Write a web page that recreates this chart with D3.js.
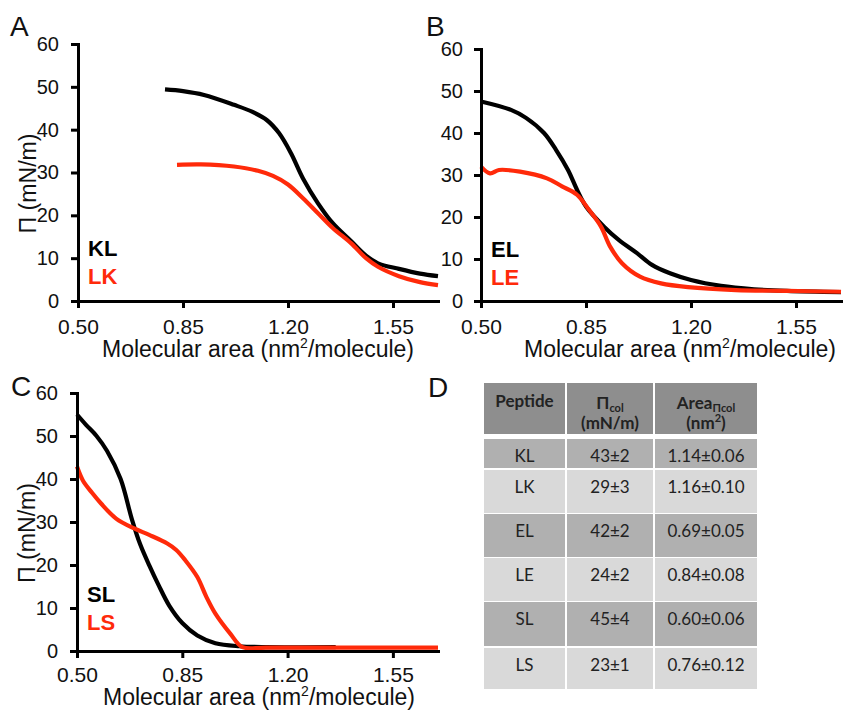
<!DOCTYPE html>
<html>
<head>
<meta charset="utf-8">
<script src="https://cdn.jsdelivr.net/npm/d3@7"></script>
<style>
  body { margin: 0; background: #fff; }
  svg { display: block; }
  .axis path, .axis line { stroke: #000; stroke-width: 3; }
  .axis text { fill: #111; font-family: "Liberation Sans", Arial, sans-serif; }
</style>
</head>
<body>
<svg id="chart" width="843" height="710"></svg>
<script>
// ---- data ----
const xTicks = [0.50, 0.85, 1.20, 1.55];
const yTicks = [0, 10, 20, 30, 40, 50, 60];

// surface pressure isotherms: [molecular area, pi]
const klCurve = [[0.79,49.4],[0.85,49.0],[0.92,48.1],[1.02,45.8],[1.08,44.2],[1.13,42.2],[1.17,39.2],[1.21,34.5],[1.25,28.6],[1.30,22.8],[1.35,18.1],[1.41,14.0],[1.46,10.6],[1.50,8.8],[1.57,7.5],[1.64,6.4],[1.70,5.8]];
const lkCurve = [[0.83,31.8],[0.91,31.9],[1.02,31.4],[1.10,30.4],[1.15,29.2],[1.20,27.2],[1.25,24.0],[1.30,20.5],[1.35,17.0],[1.41,13.5],[1.46,10.0],[1.50,8.0],[1.57,5.8],[1.64,4.4],[1.70,3.7]];
const elCurve = [[0.50,47.5],[0.60,45.5],[0.65,43.6],[0.71,40.0],[0.75,36.0],[0.79,31.2],[0.82,26.5],[0.85,22.5],[0.91,17.7],[0.96,14.5],[1.02,11.4],[1.07,8.6],[1.13,6.6],[1.20,5.0],[1.30,3.6],[1.41,2.8],[1.52,2.4],[1.70,2.1]];
const leCurve = [[0.50,32.0],[0.53,30.4],[0.56,31.2],[0.63,30.8],[0.72,29.2],[0.77,27.3],[0.82,25.3],[0.86,21.7],[0.90,17.7],[0.93,13.0],[0.97,9.0],[1.03,5.8],[1.10,4.2],[1.19,3.3],[1.35,2.6],[1.52,2.4],[1.70,2.2]];
const slCurve = [[0.50,55.0],[0.53,52.6],[0.565,50.0],[0.60,46.5],[0.645,40.0],[0.683,30.5],[0.71,24.8],[0.741,19.8],[0.77,15.5],[0.807,10.5],[0.85,6.5],[0.90,3.6],[0.96,1.8],[1.04,1.1],[1.13,0.9],[1.36,0.9]];
const lsCurve = [[0.50,42.9],[0.52,39.6],[0.55,36.8],[0.58,34.3],[0.63,30.8],[0.69,28.5],[0.74,27.0],[0.80,25.0],[0.83,23.5],[0.86,21.1],[0.90,17.2],[0.93,12.6],[0.96,8.7],[1.01,4.0],[1.05,0.9],[1.13,0.8],[1.70,0.8]];

const panelA = ["KL", "LK"];
const panelB = ["EL", "LE"];
const panelC = ["SL", "LS"];

// table D
const peptides = ["KL", "LK", "EL", "LE", "SL", "LS"];
const piCol = ["43±2", "29±3", "42±2", "24±2", "45±4", "23±1"];
const areaPiCol = ["1.14±0.06", "1.16±0.10", "0.69±0.05", "0.84±0.08", "0.60±0.06", "0.76±0.12"];

// ---- drawing ----
const svg = d3.select("#chart");
const red = "#ff2a0a";
const font = "'Liberation Sans', Arial, sans-serif";

function drawPanel(p) {
    const g = svg.append("g");

    const xScale = d3.scaleLinear().domain([0.5, 1.70]).range([p.left, p.right]);
    const yScale = d3.scaleLinear().domain([0, 60]).range([p.bottom, p.top]);

    const line = d3.line()
        .x(function (d) { return xScale(d[0]); })
        .y(function (d) { return yScale(d[1]); })
        .curve(d3.curveCatmullRom.alpha(0.5));

    // curves
    p.series.forEach(function (s) {
        g.append("path")
            .datum(s.data)
            .attr("fill", "none")
            .attr("stroke", s.color)
            .attr("stroke-width", 4.2)
            .attr("stroke-linejoin", "round")
            .attr("d", line);
    });

    // axes
    const xAxis = d3.axisBottom(xScale)
        .tickValues(xTicks)
        .tickFormat(d3.format(".2f"))
        .tickSize(7)
        .tickSizeOuter(0)
        .tickPadding(p.xPad);

    const yAxis = d3.axisLeft(yScale)
        .tickValues(yTicks)
        .tickSize(7)
        .tickSizeOuter(0)
        .tickPadding(p.yPad);

    g.append("g")
        .attr("class", "axis")
        .attr("transform", "translate(0," + p.bottom + ")")
        .call(xAxis)
        .selectAll("text").attr("font-size", 21);

    g.append("g")
        .attr("class", "axis")
        .attr("transform", "translate(" + p.left + ",0)")
        .call(yAxis)
        .selectAll("text").attr("font-size", 20);

    g.selectAll(".axis .domain").attr("stroke-linecap", "square");

    // x title
    const xt = g.append("text")
        .attr("x", p.xTitleX)
        .attr("y", p.bottom + p.xTitleDy)
        .attr("text-anchor", "middle")
        .attr("font-family", font)
        .attr("font-size", 23)
        .attr("fill", "#111");
    xt.append("tspan").text("Molecular area (nm");
    xt.append("tspan").attr("font-size", 14).attr("dy", -9).text("2");
    xt.append("tspan").attr("dy", 9).text("/molecule)");

    // y title
    if (p.yTitle) {
        g.append("text")
            .attr("transform", "translate(" + (p.left - 42) + "," + ((p.top + p.bottom) / 2 + 11) + ") rotate(-90)")
            .attr("text-anchor", "middle")
            .attr("font-family", font)
            .attr("font-size", 23)
            .attr("textLength", 100)
            .attr("lengthAdjust", "spacingAndGlyphs")
            .attr("fill", "#111")
            .text("Π (mN/m)");
    }

    // legend
    p.series.forEach(function (s, i) {
        g.append("text")
            .attr("x", p.left + 10)
            .attr("y", p.legendY + i * 28)
            .attr("font-family", font)
            .attr("font-size", 22)
            .attr("font-weight", "bold")
            .attr("fill", s.color)
            .text(s.name);
    });

    // panel letter
    svg.append("text")
        .attr("x", p.letterX)
        .attr("y", p.letterY)
        .attr("font-family", font)
        .attr("font-size", 28)
        .attr("fill", "#111")
        .text(p.letter);
}

drawPanel({
    letter: "A", letterX: 10, letterY: 36,
    left: 78, right: 438, top: 44, bottom: 301, xPad: 11, yPad: 12,
    xTitleX: 258, xTitleDy: 56, yTitle: true, legendY: 256,
    series: [{ name: panelA[0], data: klCurve, color: "#000" },
             { name: panelA[1], data: lkCurve, color: red }]
});

drawPanel({
    letter: "B", letterX: 426, letterY: 36,
    left: 481, right: 841, top: 49, bottom: 301, xPad: 11, yPad: 11,
    xTitleX: 680, xTitleDy: 56, yTitle: false, legendY: 257,
    series: [{ name: panelB[0], data: elCurve, color: "#000" },
             { name: panelB[1], data: leCurve, color: red }]
});

drawPanel({
    letter: "C", letterX: 11, letterY: 396,
    left: 77, right: 438, top: 393, bottom: 651, xPad: 9, yPad: 12,
    xTitleX: 259, xTitleDy: 54, yTitle: true, legendY: 602,
    series: [{ name: panelC[0], data: slCurve, color: "#000" },
             { name: panelC[1], data: lsCurve, color: red }]
});

svg.append("text")
    .attr("x", 428)
    .attr("y", 397)
    .attr("font-family", font)
    .attr("font-size", 28)
    .attr("fill", "#111")
    .text("D");

// ---- table D ----
const colLeft = [484, 567, 655];
const colRight = [565, 653, 757];
const rowTop = [439, 470, 514, 558, 602, 648];
const rowBottom = [468, 513, 557, 601, 646, 689];
const tFont = "Lato, 'Open Sans', sans-serif";
const tCol = "#222";

const table = svg.append("g");

// header cells
colLeft.forEach(function (x, j) {
    table.append("rect")
        .attr("x", x).attr("y", 383)
        .attr("width", colRight[j] - x).attr("height", 51)
        .attr("fill", "#8e8e8e");
});

function cx(j) { return (colLeft[j] + colRight[j]) / 2; }

table.append("text")
    .attr("x", cx(0)).attr("y", 407)
    .attr("text-anchor", "middle")
    .attr("font-family", tFont).attr("font-size", 17).attr("font-weight", "bold")
    .attr("fill", tCol)
    .text("Peptide");

const h2 = table.append("text")
    .attr("x", cx(1)).attr("y", 409)
    .attr("text-anchor", "middle")
    .attr("font-family", tFont).attr("font-size", 17).attr("font-weight", "bold")
    .attr("fill", tCol);
h2.append("tspan").text("Π");
h2.append("tspan").attr("font-size", 11).attr("dy", 3).text("col");
table.append("text")
    .attr("x", cx(1)).attr("y", 429)
    .attr("text-anchor", "middle")
    .attr("font-family", tFont).attr("font-size", 17).attr("font-weight", "bold")
    .attr("fill", tCol)
    .text("(mN/m)");

const h3 = table.append("text")
    .attr("x", cx(2)).attr("y", 409)
    .attr("text-anchor", "middle")
    .attr("font-family", tFont).attr("font-size", 17).attr("font-weight", "bold")
    .attr("fill", tCol);
h3.append("tspan").text("Area");
h3.append("tspan").attr("font-size", 11).attr("dy", 3).text("Πcol");
const h3b = table.append("text")
    .attr("x", cx(2)).attr("y", 429)
    .attr("text-anchor", "middle")
    .attr("font-family", tFont).attr("font-size", 17).attr("font-weight", "bold")
    .attr("fill", tCol);
h3b.append("tspan").text("(nm");
h3b.append("tspan").attr("font-size", 11).attr("dy", -7).text("2");
h3b.append("tspan").attr("dy", 7).text(")");

// body rows
peptides.forEach(function (pep, i) {
    const fill = i % 2 === 0 ? "#b0b0b0" : "#d9d9d9";
    const vals = [pep, piCol[i], areaPiCol[i]];
    vals.forEach(function (v, j) {
        table.append("rect")
            .attr("x", colLeft[j]).attr("y", rowTop[i])
            .attr("width", colRight[j] - colLeft[j])
            .attr("height", rowBottom[i] - rowTop[i])
            .attr("fill", fill);
        table.append("text")
            .attr("x", cx(j)).attr("y", rowTop[i] + 23)
            .attr("text-anchor", "middle")
            .attr("font-family", tFont).attr("font-size", 17)
            .attr("fill", tCol)
            .text(v);
    });
});
</script>
</body>
</html>
